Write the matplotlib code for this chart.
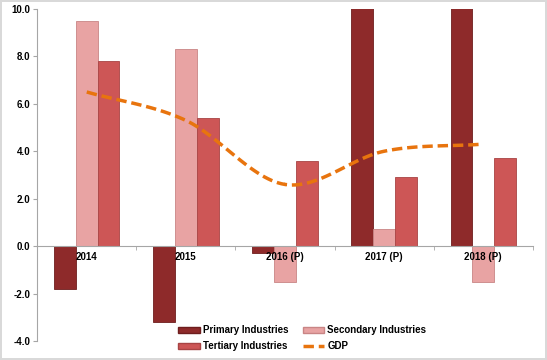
import numpy as np
import matplotlib.pyplot as plt
from matplotlib.patches import Patch
from matplotlib.lines import Line2D

plt.rcParams['font.family'] = ['Liberation Sans', 'DejaVu Sans']
plt.rcParams['font.weight'] = 'bold'

years = ['2014', '2015', '2016 (P)', '2017 (P)', '2018 (P)']
primary = [-1.8, -3.2, -0.3, 12.0, 12.0]
secondary = [9.5, 8.3, -1.5, 0.7, -1.5]
tertiary = [7.8, 5.4, 3.6, 2.9, 3.7]
gdp = [6.5, 5.3, 2.6, 4.0, 4.3]

c_prim = '#8e2a2a'
c_sec = '#e8a3a3'
c_ter = '#cd5656'
c_gdp = '#e8740e'


def catmull_rom(xs, ys, n=30):
    # smoothed line like the spreadsheet "smooth line" option
    xs = np.asarray(xs, float)
    ys = np.asarray(ys, float)
    px = np.concatenate([[2 * xs[0] - xs[1]], xs, [2 * xs[-1] - xs[-2]]])
    py = np.concatenate([[2 * ys[0] - ys[1]], ys, [2 * ys[-1] - ys[-2]]])
    outx, outy = [], []
    for i in range(1, len(px) - 2):
        t = np.linspace(0, 1, n)
        for p, out in ((px, outx), (py, outy)):
            p0, p1, p2, p3 = p[i - 1], p[i], p[i + 1], p[i + 2]
            out.extend(0.5 * (2 * p1 + (-p0 + p2) * t
                              + (2 * p0 - 5 * p1 + 4 * p2 - p3) * t ** 2
                              + (-p0 + 3 * p1 - 3 * p2 + p3) * t ** 3))
    return np.array(outx), np.array(outy)


fig = plt.figure(figsize=(5.47, 3.6), dpi=100)
fig.patch.set_edgecolor('#d9d9d9')
fig.patch.set_linewidth(1.5)
ax = fig.add_axes([0.068, 0.053, 0.906, 0.922])
ax.set_axisbelow(False)

x = np.arange(len(years))
w = 0.22
ax.bar(x - w, primary, w, color=c_prim, edgecolor='#6e1e1e', linewidth=0.6, zorder=1)
ax.bar(x, secondary, w, color=c_sec, edgecolor='#c98585', linewidth=0.6, zorder=1)
ax.bar(x + w, tertiary, w, color=c_ter, edgecolor='#a84444', linewidth=0.6, zorder=1)

sx, sy = catmull_rom(x, gdp)
ax.plot(sx, sy, color=c_gdp, lw=2.5, ls=(0, (3, 1.4)), zorder=3)

ax.set_xlim(-0.5, len(years) - 0.5)
ax.set_ylim(-4, 10)
ax.set_yticks(np.arange(-4, 10.1, 2))
ax.set_yticklabels([f'{v:.1f}' for v in np.arange(-4, 10.1, 2)], fontsize=7, fontweight='bold')

ax.spines['top'].set_visible(False)
ax.spines['right'].set_visible(False)
ax.spines['bottom'].set_position(('data', 0))
ax.spines['bottom'].set_color('#a6a6a6')
ax.spines['left'].set_color('#a6a6a6')
ax.tick_params(axis='y', length=3, color='#a6a6a6', pad=2)

ax.set_xticks(x)
ax.set_xticklabels(years, fontsize=7, fontweight='bold')
ax.set_xticks(np.arange(-0.5, len(years)), minor=True)
ax.tick_params(axis='x', which='major', length=0, pad=4)
ax.tick_params(axis='x', which='minor', length=3, color='#a6a6a6')

handles = [Patch(facecolor=c_prim, edgecolor='#6e1e1e'),
           Patch(facecolor=c_ter, edgecolor='#a84444'),
           Patch(facecolor=c_sec, edgecolor='#c98585'),
           Line2D([0], [0], color=c_gdp, lw=2.5, ls=(0, (3, 1.4)))]
labels = ['Primary Industries', 'Tertiary Industries', 'Secondary Industries', 'GDP']
ax.legend(handles, labels, ncol=2, loc='center', bbox_to_anchor=(0.535, 0.008),
          frameon=False, fontsize=7, handlelength=2.2, handleheight=0.5,
          columnspacing=1.5, labelspacing=0.6, handletextpad=0.3)

fig.savefig('out.png', dpi=100)
